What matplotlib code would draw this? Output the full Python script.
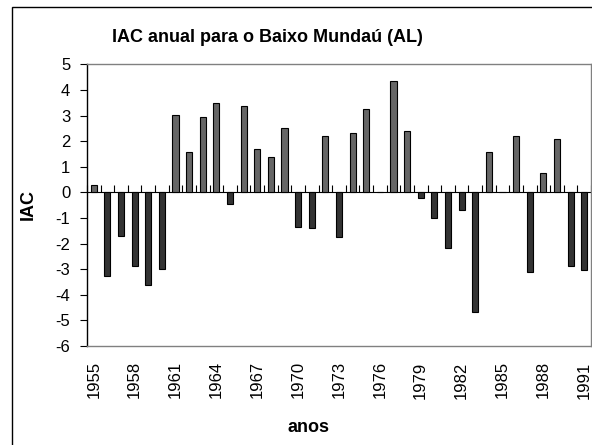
import matplotlib
matplotlib.use("Agg")
import matplotlib.pyplot as plt
from matplotlib.patches import Rectangle
import numpy as np

plt.rcParams['font.family'] = ['Liberation Sans', 'DejaVu Sans']
plt.rcParams['axes.unicode_minus'] = False

years = list(range(1955, 1992))
iac = [0.27, -3.28, -1.69, -2.89, -3.62, -2.98, 3.03, 1.59, 2.93, 3.48,
       -0.46, 3.37, 1.69, 1.39, 2.53, -1.35, -1.39, 2.19, -1.74, 2.33,
       3.27, 0.0, 4.36, 2.40, -0.21, -0.99, -2.19, -0.70, -4.66, 1.59,
       0.0, 2.19, -3.11, 0.76, 2.08, -2.88, -3.02]
yticks = list(range(-6, 6))
title = "IAC anual para o Baixo Mundaú (AL)"
xlabel = "anos"
ylabel = "IAC"

W, H = 592, 445
fig = plt.figure(figsize=(W / 100, H / 100), dpi=100)
ax = fig.add_axes([87 / W, 1 - 346 / H, (591 - 87) / W, (346 - 64.3) / H])

x = np.arange(len(years))
colors = ['#666666' if v >= 0 else '#333333' for v in iac]
ax.bar(x, iac, width=0.45, color=colors, edgecolor='black', linewidth=0.8, zorder=3)

ymin, ymax = -6, 5
ax.set_ylim(ymin, ymax)
ax.set_xlim(-0.5, len(years) - 0.5)
ax.set_yticks(yticks)
ax.set_yticklabels([str(t) for t in yticks], fontsize=12)
ax.tick_params(axis='y', direction='out', length=5, width=0.8, pad=7, color='black')

label_idx = [i for i, yv in enumerate(years) if (yv - 1955) % 3 == 0]
ax.set_xticks(label_idx)
ax.set_xticklabels([str(years[i]) for i in label_idx], rotation=90, fontsize=12)
ax.tick_params(axis='x', length=0, pad=11)

for s in ax.spines.values():
    s.set_color('#808080')
    s.set_linewidth(1.0)
ax.spines['left'].set_color('black')

# zero line with category-boundary ticks
sec = ax.secondary_xaxis((0 - ymin) / (ymax - ymin))
sec.set_xticks(np.arange(-0.5, len(years), 1.0))
sec.set_xticklabels([])
sec.tick_params(axis='x', direction='out', length=5, width=0.8, color='black')
sec.spines['bottom'].set_color('black')
sec.spines['bottom'].set_linewidth(0.9)

fig.text(267 / W, 1 - 37 / H, title, ha='center', va='center', fontsize=13, fontweight='bold')
fig.text(309 / W, 1 - 428 / H, xlabel, ha='center', va='center', fontsize=13, fontweight='bold')
fig.text(28 / W, 1 - 205 / H, ylabel, ha='center', va='center', rotation=90, fontsize=13, fontweight='bold')

fig.patches.append(Rectangle((11.5 / W, -0.1), 1.2, 1 - 6.5 / H + 0.1, transform=fig.transFigure,
                             fill=False, edgecolor='black', linewidth=1.0, zorder=0))

fig.savefig('out.png', dpi=100, facecolor='white')
